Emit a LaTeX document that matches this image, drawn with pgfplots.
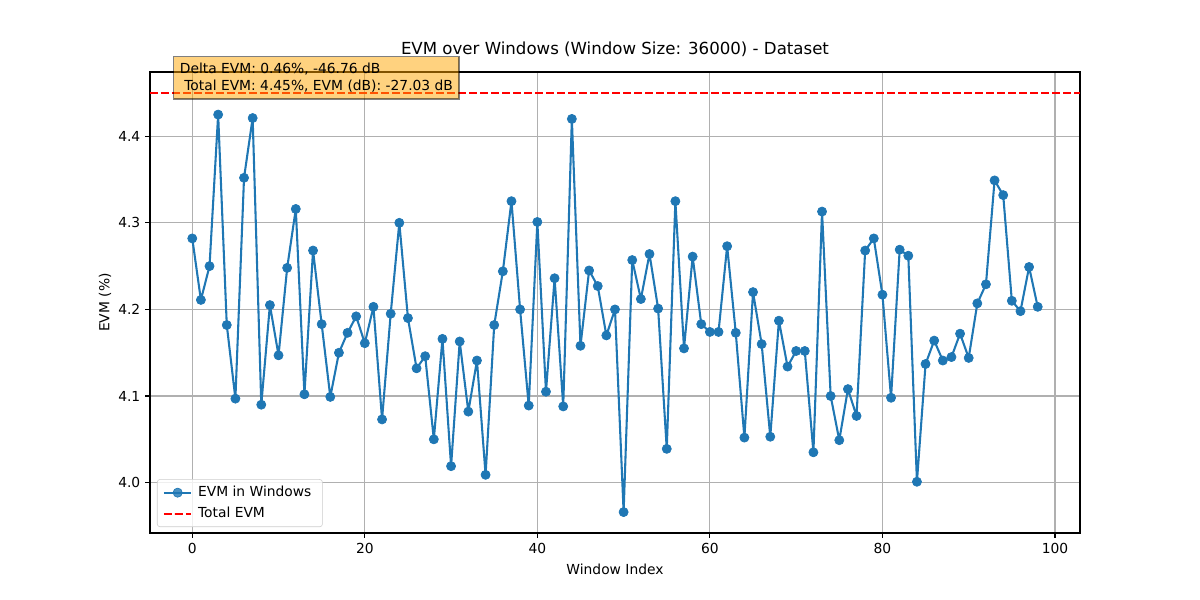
\documentclass[border=0pt]{standalone}
\usepackage{fontspec}
\setmainfont{DejaVu Sans}
\usepackage{pgfplots}
\pgfplotsset{compat=1.18}
\usepackage{pgfplotstable}
\definecolor{c0}{HTML}{1F77B4}
\definecolor{gridc}{HTML}{B0B0B0}
\definecolor{boxorange}{HTML}{FFA500}
\definecolor{legedge}{HTML}{CCCCCC}
\pgfplotstableread{
x y
0 4.282
1 4.211
2 4.250
3 4.425
4 4.182
5 4.097
6 4.352
7 4.421
8 4.090
9 4.205
10 4.147
11 4.248
12 4.316
13 4.102
14 4.268
15 4.183
16 4.099
17 4.150
18 4.173
19 4.192
20 4.161
21 4.203
22 4.073
23 4.195
24 4.300
25 4.190
26 4.132
27 4.146
28 4.050
29 4.166
30 4.019
31 4.163
32 4.082
33 4.141
34 4.009
35 4.182
36 4.244
37 4.325
38 4.200
39 4.089
40 4.301
41 4.105
42 4.236
43 4.088
44 4.420
45 4.158
46 4.245
47 4.227
48 4.170
49 4.200
50 3.966
51 4.257
52 4.212
53 4.264
54 4.201
55 4.039
56 4.325
57 4.155
58 4.261
59 4.183
60 4.174
61 4.174
62 4.273
63 4.173
64 4.052
65 4.220
66 4.160
67 4.053
68 4.187
69 4.134
70 4.152
71 4.152
72 4.035
73 4.313
74 4.100
75 4.049
76 4.108
77 4.077
78 4.268
79 4.282
80 4.217
81 4.098
82 4.269
83 4.262
84 4.001
85 4.137
86 4.164
87 4.141
88 4.145
89 4.172
90 4.144
91 4.207
92 4.229
93 4.349
94 4.332
95 4.210
96 4.198
97 4.249
98 4.203
}\evmdata
\pgfplotstableread{
x y
-4.9 4.45
102.9 4.45
}\totaldata
\begin{document}
\begin{tikzpicture}[x=1pt,y=1pt]
\useasboundingbox (0,0) rectangle (867.24,433.62);
\begin{axis}[
  at={(108.4pt,48.4pt)}, anchor=south west,
  scale only axis, width=672.1pt, height=333.2pt,
  xmin=-4.9, xmax=102.9, ymin=3.9418, ymax=4.4742,
  clip mode=individual,
  xtick={0,20,40,60,80,100},
  ytick={4.0,4.1,4.2,4.3,4.4},
  yticklabel style={/pgf/number format/.cd, fixed, fixed zerofill, precision=1},
  /pgf/number format/assume math mode=true,
  tick label style={font=\fontsize{10}{12}\selectfont},
  grid=major,
  major grid style={gridc, line width=0.8pt},
  axis line style={black, line width=0.8pt},
  tick style={black, line width=0.8pt},
  tick align=outside,
  major tick length=3.5pt,
  xtick pos=bottom, ytick pos=left,
  title={EVM over Windows (Window Size: 36000) - Dataset},
  title style={at={(axis description cs:0.5,1)}, anchor=center, yshift=10.1pt, font=\fontsize{12}{14}\selectfont},
  xlabel={Window Index},
  xlabel style={at={(axis description cs:0.5,0)}, anchor=center, yshift=-26pt, font=\fontsize{10}{12}\selectfont},
  ylabel={EVM (\%)},
  ylabel style={at={(axis description cs:-0.0484,0.5)}, anchor=center, font=\fontsize{10}{12}\selectfont},
  legend style={at={(axis description cs:0.0075,0.013)}, anchor=south west,
    draw=legedge, rounded corners=2pt, fill=white, fill opacity=0.8, text opacity=1,
    font=\fontsize{10}{12}\selectfont, inner xsep=4pt, inner ysep=3pt, row sep=2pt,
    nodes={inner xsep=4pt}},
  legend cell align=left,
  legend image code/.code={\draw[mark repeat=2,mark phase=2,#1] plot coordinates {(0pt,0pt)(10pt,0pt)(20pt,0pt)};},
]
\addplot[color=c0, line width=1.5pt, line join=round, mark=*, mark size=3.3pt, mark options={fill=c0, draw=c0, line width=0.5pt}] table[x=x,y=y]{\evmdata};
\addlegendentry{EVM in Windows}
\addplot[color=red, line width=1.5pt, dash pattern=on 5.55pt off 2.4pt] table[x=x,y=y]{\totaldata};
\addlegendentry{Total EVM}
\node[anchor=north west, fill=boxorange, fill opacity=0.5, draw=black, draw opacity=0.5, text opacity=1,
  inner xsep=4.5pt, inner ysep=4.6pt, align=left, font=\fontsize{10}{12.5}\selectfont, line width=1pt]
  at (axis description cs:0.0247,1.0347) {Delta EVM: 0.46\%, -46.76 dB\\\hspace*{3.2pt}Total EVM: 4.45\%, EVM (dB): -27.03 dB};
\end{axis}
\end{tikzpicture}
\end{document}
